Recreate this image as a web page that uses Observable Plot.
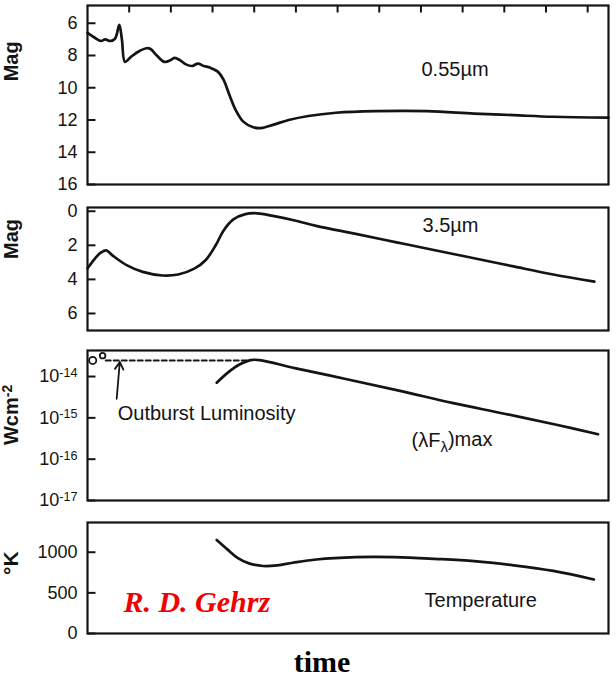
<!DOCTYPE html>
<html><head><meta charset="utf-8">
<script src="https://cdn.jsdelivr.net/npm/d3@7"></script>
<script src="https://cdn.jsdelivr.net/npm/@observablehq/plot@0.6"></script>
<style>
body{margin:0;background:#fff;}
#chart{position:relative;width:616px;height:678px;background:#fff;font-family:"Liberation Sans",Arial,sans-serif;}
#chart svg{position:absolute;left:0;overflow:visible;}
#ticks{position:absolute;left:0;top:0;width:616px;height:678px;pointer-events:none;}
#ticks svg{position:absolute;left:0;overflow:visible;}
#xlabel{position:absolute;left:0;width:644px;text-align:center;top:645px;line-height:30px;font:bold 30px "Liberation Serif","Times New Roman",serif;color:#000;}
</style></head><body><div id="chart"><div id="xlabel">time</div></div><div id="ticks"></div>
<script>
// ---------- data ----------
const timeDomain = [0, 100];
const timeTicks = [8, 16, 24, 32, 40, 48, 56, 64, 72, 80, 88, 96];

// 0.55 micron magnitude
const visTime = [0,1.4,2.6,3.4,4.4,5.3,6.1,6.6,7.2,8.3,9.8,11.4,12.1,13.3,14.8,15.9,16.7,17.8,18.9,20.1,21.2,22.3,23.5,25,26.1,27.3,28.4,29.9,31.8,33.3,35.6,38.6,42.4,47.7,55.3,65.2,74.2,81.8,89.4,100];
const visMag  = [6.6,6.9,7.1,7.0,7.1,6.95,6.1,7.0,8.4,8.1,7.75,7.55,7.6,8.0,8.4,8.3,8.15,8.3,8.55,8.65,8.5,8.65,8.75,9.0,9.5,10.5,11.35,12.1,12.45,12.5,12.3,12.0,11.75,11.55,11.45,11.45,11.6,11.7,11.8,11.85];
const visTicks = [6, 8, 10, 12, 14, 16];

// 3.5 micron magnitude
const irTime = [0,1.5,2.6,3.6,4.9,7.6,10.6,14.4,17.4,20.5,22.7,24.6,26.1,28,30.3,32.6,35.6,40.2,43.9,51.5,59.1,66.7,74.2,81.8,89.4,97.3];
const irMag  = [3.36,2.75,2.42,2.3,2.62,3.18,3.56,3.77,3.71,3.37,2.86,2.0,1.14,0.48,0.17,0.12,0.27,0.57,0.86,1.33,1.81,2.29,2.76,3.24,3.71,4.13];
const irTicks = [0, 2, 4, 6];

// (lambda F lambda)max, W cm^-2
const fluxTime = [24.8, 27, 29, 31.3, 33, 40, 50, 60, 70, 80, 90, 98];
const fluxVal  = [7.1e-15, 1.26e-14, 1.9e-14, 2.5e-14, 2.5e-14, 1.58e-14, 8.5e-15, 4.5e-15, 2.3e-15, 1.26e-15, 6.8e-16, 4.0e-16];
const outburstTime = [3.5, 31];
const outburstVal  = [2.45e-14, 2.45e-14];
const obsTime = [1.0, 2.9];
const obsVal  = [2.45e-14, 3.2e-14];
const obsSize = [5, 3];
const fluxTicks = [1e-14, 1e-15, 1e-16, 1e-17];

// dust temperature, K
const tempTime = [24.8, 26.9, 28.8, 31, 33.7, 36.4, 39.4, 43.9, 51.5, 59, 66.7, 74.2, 81.8, 89.4, 97.2];
const tempK    = [1150, 1032, 931, 863, 831, 839, 871, 911, 940, 940, 919, 891, 839, 770, 665];
const tempTicks = [0, 500, 1000];

// annotations (data coordinates)
const visNotes  = [{t: 64.1, v: 8.9, s: "0.55µm"}];
const visTitle  = [{v: 9.6, s: "Mag"}];
const irNotes   = [{t: 64.3, v: 0.82, s: "3.5µm"}];
const irTitle   = [{v: 2.8, s: "Mag"}];
const fluxNotes = [{t: 5.8, v: 1.25e-15, s: "Outburst Luminosity"}, {t: 62.2, v: 2.8e-16, s: "(λFλ)max"}];
const fluxTitle = [{v: 2.2e-16, s: "Wcm^-2"}];
const arrowPts  = [{t1: 5.6, v1: 2.9e-15, t2: 6.2, v2: 2.25e-14}];
const tempNotes = [{t: 64.7, v: 402, s: "Temperature"}];
const tempTitle = [{v: 720, s: "°K"}];
const credit    = [{t: 6.9, v: 385, s: "R. D. Gehrz"}];

// ---------- helpers ----------
const zip = (xs, ys) => xs.map((t, i) => ({t, v: ys[i]}));
const INK = "#141414";
const FONT = "'Liberation Sans', Arial, sans-serif";
const PLOT_W = 616, ML = 87, MR = 8;
const FRAME_W = PLOT_W - ML - MR;
const TICK_PX = 8;
const tickLenX = (timeDomain[1] - timeDomain[0]) * TICK_PX / FRAME_W;

function yTitle(data, size = 20) {
  return Plot.text(data, {frameAnchor: "left", y: "v", text: "s", dx: -76, rotate: -90, fontSize: size, fontWeight: "bold", fill: INK});
}
function notes(data, extra = {}) {
  return Plot.text(data, {x: "t", y: "v", text: "s", textAnchor: "start", fontSize: 20, fill: INK, ...extra});
}
function tickLabels(ticks, fmt) {
  return Plot.axisY(ticks, {tickSize: 0, tickPadding: 10, fontSize: 18, label: null, tickFormat: fmt, fill: INK});
}
// inward tick marks on the left frame edge, from the tick values
function leftTickMarks(ticks) {
  return Plot.link(ticks, {x1: () => timeDomain[0], x2: () => timeDomain[0] + tickLenX, y1: d => d, y2: d => d, stroke: INK, strokeWidth: 2});
}

function panel(top, height, mt, mb, y, marks, tickMarks) {
  const svg = Plot.plot({
    width: PLOT_W, height, marginLeft: ML, marginRight: MR, marginTop: mt, marginBottom: mb,
    x: {domain: timeDomain, axis: null},
    y: {...y, axis: null},
    style: {background: "transparent", fontFamily: FONT, color: INK},
    marks: [...marks, Plot.frame({stroke: INK, strokeWidth: 2.2})]
  });
  svg.style.top = top + "px";
  const ns = "http://www.w3.org/2000/svg";
  svg.querySelectorAll("text").forEach(el => {
    const m = el.textContent.match(/^([^^]*)\^(.+)$/);
    if (m && el.children.length === 0) {
      el.textContent = "";
      const a = document.createElementNS(ns, "tspan"); a.textContent = m[1];
      const b = document.createElementNS(ns, "tspan"); b.textContent = m[2];
      b.setAttribute("dy", "-0.42em"); b.setAttribute("font-size", "0.7em");
      el.append(a, b);
    }
    if (el.textContent === "(λFλ)max") {
      el.textContent = "";
      const a = document.createElementNS(ns, "tspan"); a.textContent = "(λF";
      const b = document.createElementNS(ns, "tspan"); b.textContent = "λ"; b.setAttribute("dy", "0.3em"); b.setAttribute("font-size", "15");
      const c = document.createElementNS(ns, "tspan"); c.textContent = ")max"; c.setAttribute("dy", "-0.3em");
      el.append(a, b, c);
    }
  });
  document.getElementById("chart").appendChild(svg);

  // tick marks in a plain overlay plot sharing the same scales and margins
  const ov = Plot.plot({
    width: PLOT_W, height, marginLeft: ML, marginRight: MR, marginTop: mt, marginBottom: mb,
    x: {domain: timeDomain, axis: null},
    y: {...y, axis: null},
    marks: tickMarks
  });
  ov.style.top = top + "px";
  document.getElementById("ticks").appendChild(ov);
  return svg;
}
const lineOpts = {x: "t", y: "v", stroke: INK, strokeWidth: 2.7, curve: "catmull-rom"};

// ---------- panel 1: 0.55 micron ----------
const H1 = 190, MT1 = 5, MB1 = 6;
const vis_y = {domain: [16, 4.9]};
const tickLenVis = (vis_y.domain[0] - vis_y.domain[1]) * 7 / (H1 - MT1 - MB1);
panel(0, H1, MT1, MB1, vis_y, [
  Plot.line(zip(visTime, visMag), lineOpts),
  tickLabels(visTicks),
  notes(visNotes),
  yTitle(visTitle)
], [
  leftTickMarks(visTicks),
  Plot.link(timeTicks, {x1: d => d, x2: d => d, y1: () => vis_y.domain[1], y2: () => vis_y.domain[1] + tickLenVis, stroke: INK, strokeWidth: 2})
]);

// ---------- panel 2: 3.5 micron ----------
panel(195, 140, 12, 5, {domain: [7.0, -0.22]}, [
  Plot.line(zip(irTime, irMag), lineOpts),
  tickLabels(irTicks),
  notes(irNotes),
  yTitle(irTitle)
], [leftTickMarks(irTicks)]);

// ---------- panel 3: flux ----------
panel(340, 170, 10, 10, {type: "log", domain: [1e-17, Math.pow(10, -13.37)]}, [
  Plot.line(zip(outburstTime, outburstVal), {x: "t", y: "v", stroke: INK, strokeWidth: 2, strokeDasharray: "5,3"}),
  Plot.line(zip(fluxTime, fluxVal), lineOpts),
  Plot.dot(obsTime.map((t, i) => ({t, v: obsVal[i], r: obsSize[i]})), {x: "t", y: "v", r: "r", stroke: INK, strokeWidth: 1.8, fill: "white"}),
  Plot.arrow(arrowPts, {x1: "t1", y1: "v1", x2: "t2", y2: "v2", stroke: INK, strokeWidth: 1.8, headLength: 7}),
  tickLabels(fluxTicks, d => "10^" + Math.round(Math.log10(d))),
  notes(fluxNotes),
  yTitle(fluxTitle)
], [leftTickMarks(fluxTicks)]);

// ---------- panel 4: temperature ----------
panel(512, 131, 10, 10, {domain: [0, 1366]}, [
  Plot.line(zip(tempTime, tempK), lineOpts),
  tickLabels(tempTicks, d => String(d)),
  notes(tempNotes),
  notes(credit, {fill: "#f00000", fontSize: 30, fontWeight: "bold", fontStyle: "italic", fontFamily: "'Liberation Serif', 'Times New Roman', serif"}),
  yTitle(tempTitle, 21)
], [leftTickMarks(tempTicks)]);
</script>
</body></html>
